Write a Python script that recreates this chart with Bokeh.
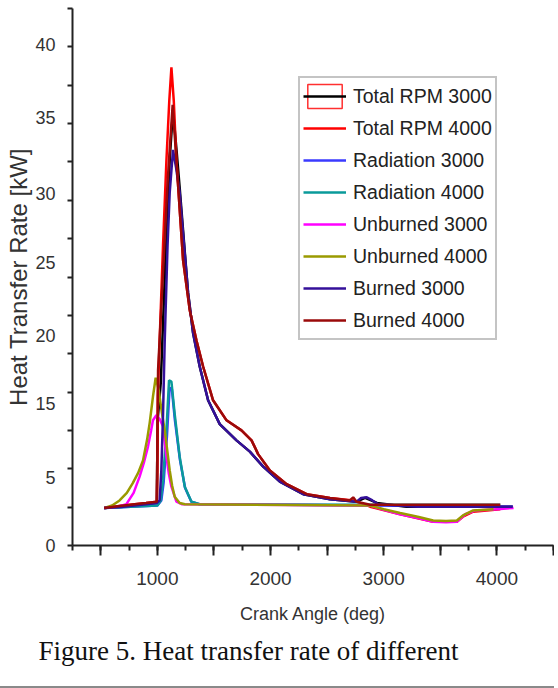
from bokeh.plotting import figure
from bokeh.models import Range1d, FixedTicker, Legend, LegendItem, Title
from bokeh.embed import file_html
from bokeh.resources import INLINE

# ---------------- data (crank angle in deg, heat transfer rate in kW) ----------------
total3000_x = [530, 700, 900, 995, 1002, 1030, 1080, 1110, 1138, 1170, 1197, 1271, 1315, 1374, 1448, 1551,
               1699, 1817, 1935, 2082, 2289, 2525, 2761, 2835, 2940, 3200, 3600, 4140]
total3000_y = [3.0, 3.1, 3.3, 3.4, 10.0, 13.0, 25.0, 31.0, 34.8, 31.5, 28.6, 20.2, 17.0, 14.3, 11.6, 9.7,
               8.4, 7.5, 6.3, 5.1, 4.1, 3.7, 3.5, 3.8, 3.4, 3.1, 3.1, 3.1]

total4000_x = [530, 700, 900, 995, 1000, 1004, 1020, 1050, 1080, 1105, 1124, 1145, 1168, 1227, 1286, 1345,
               1404, 1492, 1611, 1743, 1832, 1890, 1994, 2142, 2319, 2525, 2731, 2879, 3145, 3437, 3646,
               3700, 3790, 4030]
total4000_y = [3.0, 3.2, 3.4, 3.5, 6.0, 12.0, 16.4, 24.0, 30.8, 35.5, 38.2, 35.5, 30.8, 22.8, 18.8, 16.4,
               14.3, 11.6, 10.0, 9.2, 8.4, 7.3, 6.0, 4.9, 4.1, 3.8, 3.6, 3.1, 2.5, 1.9, 1.9,
               2.3, 2.7, 2.9]

rad3000_x = [530, 1000, 1035, 1055, 1085, 1108, 1128, 1155, 1200, 1245, 1300, 1370, 2879, 4140]
rad3000_y = [3.0, 3.2, 3.6, 5.0, 8.8, 12.6, 12.5, 10.0, 6.8, 4.6, 3.5, 3.3, 3.2, 3.1]

rad4000_x = [530, 1000, 1030, 1050, 1080, 1103, 1124, 1153, 1197, 1242, 1301, 1374, 2879, 4030]
rad4000_y = [3.0, 3.2, 3.6, 5.2, 9.2, 13.2, 13.1, 10.5, 7.1, 4.7, 3.5, 3.3, 3.25, 3.25]

unb3000_x = [530, 650, 726, 790, 843, 880, 917, 945, 961, 991, 1020, 1050, 1080, 1100, 1124, 1168, 1215,
             2879, 3000, 3145, 3300, 3437, 3550, 3646, 3720, 3810, 4000, 4147]
unb3000_y = [3.0, 3.1, 3.3, 4.2, 5.5, 6.6, 7.9, 9.2, 10.0, 10.4, 10.1, 9.5, 7.1, 5.8, 4.7, 3.5, 3.3,
             3.2, 2.85, 2.5, 2.2, 1.9, 1.85, 1.9, 2.5, 2.8, 2.9, 3.0]

unb4000_x = [534, 600, 666, 730, 784, 830, 873, 910, 932, 961, 985, 1010, 1040, 1065, 1090, 1109, 1130,
             1153, 1197, 1242, 2879, 3000, 3145, 3300, 3437, 3550, 3646, 3700, 3790, 3970]
unb4000_y = [3.0, 3.2, 3.6, 4.2, 5.0, 5.8, 6.8, 8.5, 9.8, 11.9, 13.4, 12.5, 10.6, 9.2, 7.4, 6.0, 4.8,
             3.9, 3.4, 3.3, 3.2, 2.9, 2.6, 2.3, 2.0, 1.95, 2.0, 2.4, 2.8, 2.9]

burn3000_x = [530, 700, 900, 995, 1020, 1035, 1050, 1065, 1090, 1109, 1138, 1165, 1197, 1271, 1315, 1374,
              1448, 1551, 1699, 1817, 1935, 2082, 2289, 2525, 2761, 2800, 2850, 2900, 2950, 3300, 4140]
burn3000_y = [3.0, 3.1, 3.3, 3.4, 3.6, 6.0, 10.5, 16.4, 24.0, 28.2, 31.6, 30.2, 28.2, 20.2, 17.0, 14.3,
              11.6, 9.7, 8.4, 7.5, 6.3, 5.1, 4.1, 3.7, 3.5, 3.8, 3.85, 3.6, 3.3, 3.1, 3.1]

burn4000_x = [530, 700, 900, 995, 1000, 1006, 1040, 1090, 1135, 1168, 1227, 1286, 1345, 1404, 1492, 1611,
              1743, 1832, 1890, 1994, 2142, 2319, 2525, 2700, 2730, 2760, 2879, 3500, 4030]
burn4000_y = [3.0, 3.2, 3.4, 3.5, 8.0, 14.0, 20.0, 29.0, 35.2, 30.8, 22.8, 18.8, 16.4, 14.3, 11.6, 10.0,
              9.2, 8.4, 7.3, 6.0, 4.9, 4.1, 3.8, 3.6, 3.85, 3.5, 3.25, 3.25, 3.25]

series_names = ["Total RPM 3000", "Total RPM 4000", "Radiation 3000", "Radiation 4000",
                "Unburned 3000", "Unburned 4000", "Burned 3000", "Burned 4000"]
series_colors = ["#000000", "#ff0000", "#3a3aff", "#0a9a9a",
                 "#ff00ff", "#9a9a00", "#34109a", "#9a0a0a"]
series_x = [total3000_x, total4000_x, rad3000_x, rad4000_x, unb3000_x, unb4000_x, burn3000_x, burn4000_x]
series_y = [total3000_y, total4000_y, rad3000_y, rad4000_y, unb3000_y, unb4000_y, burn3000_y, burn4000_y]

x_major_ticks = [500, 1000, 1500, 2000, 2500, 3000, 3500, 4000, 4500]
x_labels = {1000: "1000", 2000: "2000", 3000: "3000", 4000: "4000"}
y_tick_labels = ["40", "35", "30", "25", "20", "15", "5", "0"]

# ---------------- layout ----------------
Y_TOP = 42.9
y_label_pos = [40.0, 34.16, 28.16, 22.64, 16.8, 11.36, 5.44, 0.0]
y_minor = [round(k * Y_TOP / 14, 3) for k in range(15)]

p = figure(width=554, height=688, x_range=Range1d(250, 4500), y_range=Range1d(0, Y_TOP),
           output_backend="svg", toolbar_location=None,
           min_border_left=72, min_border_right=1, min_border_top=8, min_border_bottom=143)
p.styles = {"border-bottom": "2px solid #8a8a8a"}
p.outline_line_color = None
p.grid.visible = False
p.background_fill_color = "white"

FONT = "Liberation Sans"

# x axis
xa = p.xaxis[0]
xa.ticker = FixedTicker(ticks=x_major_ticks, minor_ticks=list(range(250, 4501, 250)))
xa.major_label_overrides = {t: x_labels.get(t, "") for t in x_major_ticks}
xa.axis_label = "Crank Angle (deg)"
xa.axis_label_text_font = FONT
xa.axis_label_text_font_size = "18px"
xa.axis_label_text_font_style = "normal"
xa.axis_label_text_color = "#333333"
xa.axis_label_standoff = 16
xa.major_label_text_font = FONT
xa.major_label_text_font_size = "19px"
xa.major_label_text_color = "#333333"
xa.major_label_standoff = 16
xa.major_tick_out = 10
xa.major_tick_in = 0
xa.minor_tick_out = 5
xa.minor_tick_in = 0
xa.axis_line_width = 2
xa.axis_line_color = "#222222"
xa.major_tick_line_width = 2
xa.major_tick_line_color = "#222222"
xa.minor_tick_line_width = 2
xa.minor_tick_line_color = "#222222"

# y axis
ya = p.yaxis[0]
ya.ticker = FixedTicker(ticks=y_label_pos, minor_ticks=y_minor)
ya.major_label_overrides = {pos: lab for pos, lab in zip(y_label_pos, y_tick_labels)}
ya.axis_label = "Heat Transfer Rate [kW]"
ya.axis_label_text_font = FONT
ya.axis_label_text_font_size = "24px"
ya.axis_label_text_font_style = "normal"
ya.axis_label_text_color = "#333333"
ya.axis_label_standoff = 0
ya.major_label_text_font = FONT
ya.major_label_text_font_size = "18px"
ya.major_label_text_color = "#333333"
ya.major_label_standoff = 11
ya.major_tick_out = 6
ya.major_tick_in = 0
ya.major_tick_line_color = None
ya.minor_tick_out = 5
ya.minor_tick_in = 0
ya.minor_tick_line_width = 2
ya.minor_tick_line_color = "#222222"
ya.axis_line_width = 2
ya.axis_line_color = "#222222"

# lines
items = []
nan = float("nan")
box = p.rect(x=[nan], y=[nan], width=1, height=1, fill_color=None, line_color="#ff3030", line_width=1.5)
for i, (name, col, xs, ys) in enumerate(zip(series_names, series_colors, series_x, series_y)):
    r = p.line(xs, ys, line_color=col, line_width=2.5)
    rs = [box, r] if i == 0 else [r]
    items.append(LegendItem(label=name, renderers=rs))

legend = Legend(items=items, location=(226, 205), orientation="vertical",
                glyph_width=43, glyph_height=30, spacing=2, padding=3, margin=0,
                label_standoff=7, label_text_font=FONT, label_text_font_size="19.5px",
                label_text_color="#222222", label_height=30,
                border_line_color="#8a8a8a", border_line_width=2,
                background_fill_color="white", background_fill_alpha=1.0)
p.add_layout(legend, "center")

cap = Title(text="Figure 5. Heat transfer rate of different", align="left", offset=-34,
            text_font="Liberation Serif", text_font_size="27px", text_font_style="normal",
            text_color="#111111", standoff=15)
p.add_layout(cap, "below")

open("out.html", "w").write(file_html(p, INLINE))
